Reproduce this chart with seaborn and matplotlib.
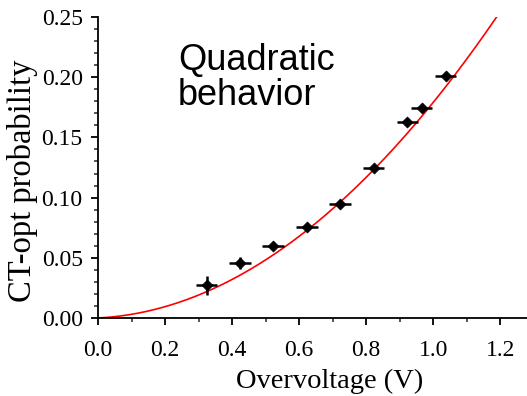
import numpy as np
import pandas as pd
import matplotlib
matplotlib.use("Agg")
import matplotlib.pyplot as plt
from matplotlib.ticker import MultipleLocator
import seaborn as sns

overvoltage = [0.324, 0.424, 0.522, 0.623, 0.722, 0.822, 0.923, 0.966, 1.037]
ct_prob = [0.027, 0.046, 0.060, 0.0755, 0.095, 0.1245, 0.1625, 0.1745, 0.201]
x_err = [0.032, 0.032, 0.032, 0.032, 0.032, 0.032, 0.032, 0.032, 0.032]
y_err = [0.008, 0.005, 0.003, 0.002, 0.002, 0.002, 0.002, 0.003, 0.002]
fit_coeffs = [0.165, 0.014, 0.0]  # a*x^2 + b*x + c
fit_range = [0.0, 1.2]
x_ticks = [0.0, 0.2, 0.4, 0.6, 0.8, 1.0, 1.2]
y_ticks = [0.00, 0.05, 0.10, 0.15, 0.20, 0.25]

sns.set_style("ticks")
plt.rcParams['font.family'] = ['Liberation Serif', 'DejaVu Serif']
plt.rcParams['text.color'] = 'black'
plt.rcParams['axes.labelcolor'] = 'black'

fig = plt.figure(figsize=(5.27, 3.96), dpi=100)
ax = fig.add_axes([0.186, 0.197, 0.814, 0.760])

xf = np.linspace(fit_range[0], fit_range[1], 200)
fit_df = pd.DataFrame({"x": xf, "y": np.polyval(fit_coeffs, xf)})
sns.lineplot(data=fit_df, x="x", y="y", color="red", linewidth=1.2, ax=ax)

df = pd.DataFrame({"x": overvoltage, "y": ct_prob})
ax.errorbar(overvoltage, ct_prob, xerr=x_err, yerr=y_err, fmt="none",
            ecolor="black", elinewidth=1.8, capsize=0, zorder=3)
sns.scatterplot(data=df, x="x", y="y", marker="D", s=32, color="black",
                edgecolor="black", ax=ax, zorder=4)

ax.set_xlim(0, 1.28)
ax.set_ylim(0, 0.25)
ax.set_xticks(x_ticks)
ax.set_xticklabels([f"{v:.1f}" for v in x_ticks])
ax.set_yticks(y_ticks)
ax.set_yticklabels([f"{v:.2f}" for v in y_ticks])
ax.xaxis.set_minor_locator(MultipleLocator(0.1))
ax.yaxis.set_minor_locator(MultipleLocator(0.01))
ax.tick_params(axis="both", which="major", direction="out", length=5, width=1.3,
               labelsize=17, colors="black")
ax.tick_params(axis="x", which="major", pad=11)
ax.tick_params(axis="y", which="major", pad=6)
ax.tick_params(axis="both", which="minor", direction="out", length=3, width=1.1)
for s in ["left", "bottom"]:
    ax.spines[s].set_linewidth(1.3)
    ax.spines[s].set_color("black")
sns.despine(ax=ax)

ax.set_xlabel("Overvoltage (V)", fontsize=20.5)
ax.set_ylabel("CT-opt probability", fontsize=23.5)
ax.xaxis.set_label_coords(0.541, -0.168)
ax.yaxis.set_label_coords(-0.141, 0.455)

sans = ["Liberation Sans", "DejaVu Sans"]
ax.text(0.239, 0.206, "Quadratic", fontsize=26, va="baseline", ha="left", family=sans, color="black")
ax.text(0.239, 0.177, "behavior", fontsize=26, va="baseline", ha="left", family=sans, color="black")

fig.savefig("out.png", dpi=100)
